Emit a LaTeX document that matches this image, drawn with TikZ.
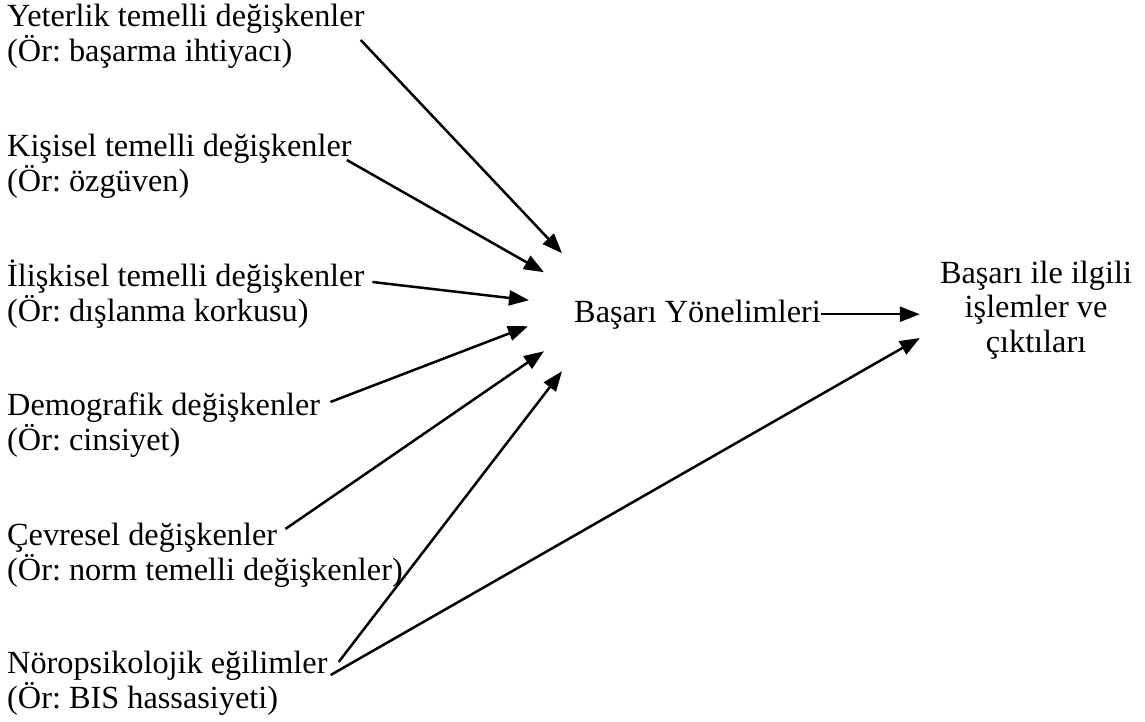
\documentclass[tikz,border=0pt]{standalone}
\usepackage{fontspec}
\setmainfont{Liberation Serif}
\usetikzlibrary{arrows.meta, positioning}
\frenchspacing

\begin{document}
\begin{tikzpicture}[x=1pt, y=-1pt, >={Triangle[length=20pt,width=15pt]},
    every node/.style={inner sep=0pt, font=\fontsize{32.3}{34.5}\selectfont},
    var/.style={anchor=base west},
    link/.style={line width=2.5pt, ->}]
    \useasboundingbox (0,0) rectangle (1145,722);

    \node[var] (yet)     at (7,27)  {Yeterlik temelli değişkenler};
    \node[var] (yetor)   at (7,62)  {(Ör: başarma ihtiyacı)};
    \node[var] (kis)     at (7,157) {Kişisel temelli değişkenler};
    \node[var] (kisor)   at (7,192) {(Ör: özgüven)};
    \node[var] (ili)     at (7,286) {İlişkisel temelli değişkenler};
    \node[var] (ilior)   at (7,321) {(Ör: dışlanma korkusu)};
    \node[var] (dem)     at (7,415) {Demografik değişkenler};
    \node[var] (demor)   at (7,450) {(Ör: cinsiyet)};
    \node[var] (cev)     at (7,545) {Çevresel değişkenler};
    \node[var] (cevor)   at (7,580) {(Ör: norm temelli değişkenler)};
    \node[var] (noro)    at (7,673) {Nöropsikolojik eğilimler};
    \node[var] (noroor)  at (7,708) {(Ör: BIS hassasiyeti)};

    \node[var] (yon) at (574,322) {Başarı Yönelimleri};
    \node[align=center] (out) at (1036,310) {Başarı ile ilgili\\işlemler ve\\çıktıları};

    \draw[link] ([xshift=-4pt,yshift=-13pt]yet.base east) -- ([xshift=-12pt,yshift=61pt]yon.west);
    \draw[link] ([xshift=-5pt,yshift=-3pt]kis.base east)  -- ([xshift=-30pt,yshift=42pt]yon.west);
    \draw[link] ([xshift=8pt,yshift=4pt]ili.base east)    -- ([xshift=-45pt,yshift=14pt]yon.west);
    \draw[link] ([xshift=10pt,yshift=13pt]dem.base east)  -- ([xshift=-46pt,yshift=-12pt]yon.west);
    \draw[link] ([xshift=8pt,yshift=16pt]cev.base east)   -- ([xshift=-30pt,yshift=-37pt]yon.west);
    \draw[link] ([xshift=11pt,yshift=11pt]noro.base east) -- ([xshift=-12pt,yshift=-57pt]yon.west);
    \draw[link] ([xshift=3pt,yshift=-2pt]noro.base east)  -- ([xshift=-20pt,yshift=-28pt]out.west);

    \draw[link] (yon.east) -- ([xshift=-20pt]yon.east -| out.west);
\end{tikzpicture}
\end{document}
